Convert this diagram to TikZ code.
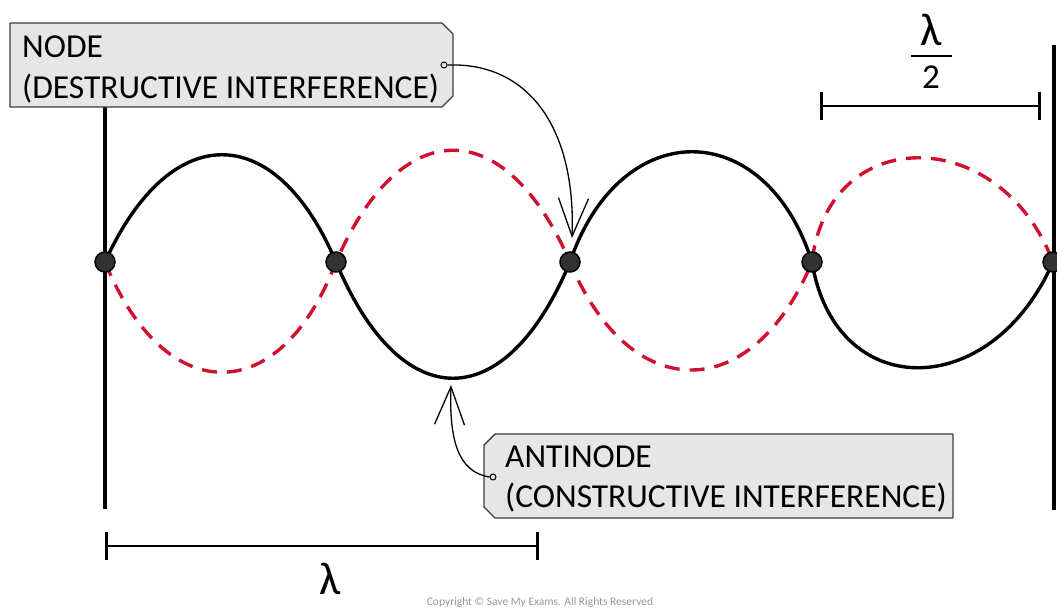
\documentclass[tikz,border=0pt]{standalone}
\usepackage{fontspec}
\setmainfont{Carlito}
\usetikzlibrary{arrows.meta}
\definecolor{wavered}{RGB}{208,16,46}
\definecolor{boxfill}{RGB}{230,230,230}
\definecolor{boxline}{RGB}{60,60,60}
\definecolor{dotfill}{RGB}{50,50,50}
\definecolor{copygray}{RGB}{150,150,150}
\begin{document}
\begin{tikzpicture}[x=1pt,y=-1pt,
  solidwave/.style={line width=3.4pt,black},
  redwave/.style={line width=3.4pt,wavered,dash pattern=on 15pt off 10pt},
  wall/.style={line width=3.4pt,black},
  dot/.style={circle,fill=dotfill,draw=black,line width=1.5pt,minimum size=20pt,inner sep=0pt},
  labelbox/.style={fill=boxfill,draw=boxline,line width=1.4pt,line join=round},
  lbl/.style={inner sep=0pt,anchor=base west,font=\fontsize{33.5}{40}\selectfont},
  pointer/.style={line width=1.3pt,black,-{Straight Barb[length=38pt,width=30pt,line width=1.3pt]}},
  pin/.style={circle,draw=black,fill=boxfill,line width=1pt,minimum size=6pt,inner sep=0pt},
  dimbar/.style={line width=2.6pt,black,{Bar[width=28pt,line width=2.6pt]}-{Bar[width=28pt,line width=2.6pt]}},
  greek/.style={inner sep=0pt,anchor=base}
]
\useasboundingbox (0,0) rectangle (1057,608);

% walls
\coordinate (wl1) at (105,107);
\coordinate (wl2) at (105,509);
\coordinate (wr1) at (1054,45);
\coordinate (wr2) at (1054,510);
\draw[wall] (wl1) -- (wl2);
\draw[wall] (wr1) -- (wr2);

% node positions
\coordinate (p1) at (105,262);
\coordinate (p2) at (336,262);
\coordinate (p3) at (570,262);
\coordinate (p4) at (812,262);
\coordinate (p5) at (1053,262);

% solid wave
\draw[solidwave] (p1) .. controls (170,119) and (275,119) .. (p2)
  .. controls (401,417) and (505,417) .. (p3)
  .. controls (620,115) and (765,115) .. (p4)
  .. controls (835,403) and (991,403) .. (p5);

% dashed wave
\draw[redwave] (p1) .. controls (165,409) and (280,409) .. (p2)
  .. controls (401,113) and (505,113) .. (p3)
  .. controls (630,406) and (752,406) .. (p4)
  .. controls (828,123) and (1000,123) .. (p5);

% dots
\node[dot] (n1) at (p1) {};
\node[dot] (n2) at (p2) {};
\node[dot] (n3) at (p3) {};
\node[dot] (n4) at (p4) {};
\node[dot] (n5) at (p5) {};

% top label box
\draw[labelbox] (10,23) -- (442,23) -- (453,34) -- (453,96) -- (442,107) -- (10,107) -- cycle;
\node[lbl] (nodet1) at (22,57) {NODE};
\node[lbl] (nodet2) at (22,98) {(DESTRUCTIVE INTERFERENCE)};

% bottom label box
\draw[labelbox] (495,434) -- (953,434) -- (953,518) -- (495,518) -- (484,507) -- (484,445) -- cycle;
\node[lbl] (antit1) at (505,467) {ANTINODE};
\node[lbl] (antit2) at (505,507) {(CONSTRUCTIVE INTERFERENCE)};

% pointers
\coordinate (tip1) at (572,238);
\coordinate (tip2) at (451,385);
\node[pin] (pin1) at (444,65) {};
\node[pin] (pin2) at (493,477) {};
\draw[pointer] (pin1.east) .. controls (530,62) and (576,130) .. (tip1);
\draw[pointer] (pin2.west) .. controls (458,472) and (449,440) .. (tip2);

% lambda dimension
\coordinate (la) at (105,546);
\coordinate (lb) at (539,546);
\draw[dimbar] (la) -- (lb);
\node[greek,font=\fontsize{46}{46}\selectfont] (lam) at (330,594) {λ};

% half lambda dimension
\coordinate (ha) at (820,106);
\coordinate (hb) at (1041,106);
\draw[dimbar] (ha) -- (hb);
\node[greek,font=\fontsize{46}{46}\selectfont] (hlam) at (931,45) {λ};
\coordinate (fa) at (911,56);
\coordinate (fb) at (952,56);
\draw[line width=2.6pt] (fa) -- (fb);
\node[greek,font=\fontsize{35}{35}\selectfont] (two) at (931,88) {2};

% copyright
\node[inner sep=0pt,anchor=base,text=copygray,font=\fontsize{11.5}{12}\selectfont] (copy) at (540,605) {Copyright © Save My Exams. All Rights Reserved};
\end{tikzpicture}
\end{document}
